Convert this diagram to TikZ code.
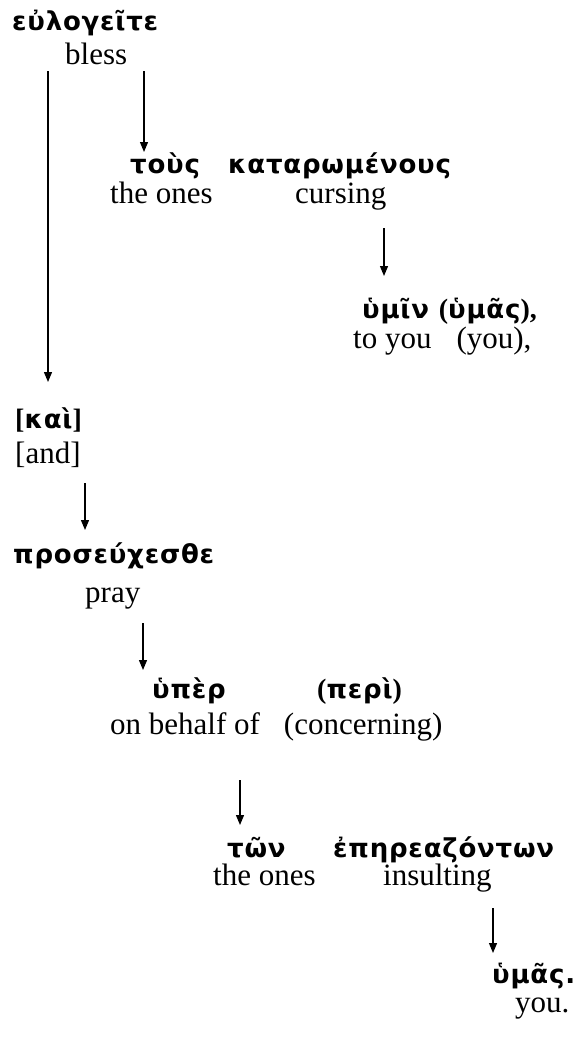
\documentclass[tikz,border=0pt]{standalone}
\usepackage{fontspec}
\setmainfont{Liberation Serif}
\newfontfamily\grkfont{DejaVu Sans}[LetterSpace=3]
\usetikzlibrary{arrows.meta}
% bold serif punctuation inside the Greek lines
\newcommand\gp[1]{{\rmfamily\bfseries\fontsize{28bp}{28bp}\selectfont #1}}
\begin{document}
\begin{tikzpicture}[x=1bp,y=-1bp,
  gk/.style={anchor=base west, inner sep=0pt,
    font=\grkfont\bfseries\fontsize{26bp}{26bp}\selectfont},
  en/.style={anchor=base west, inner sep=0pt,
    font=\rmfamily\fontsize{31bp}{31bp}\selectfont},
  link/.style={line width=1.2bp, -{Triangle[length=10bp,width=8bp]}}]
\useasboundingbox (0,0) rectangle (578,1038);

% words and glosses
\node[gk] (g1) at (12,30) {εὐλογεῖτε};
\node[en] (e1) at (65,64) {bless};

\node[gk] (g2a) at (130,173) {τοὺς};
\node[gk] (g2b) at (228,173) {καταρωμένους};
\node[en] (e2a) at (110,203) {the ones};
\node[en] (e2b) at (295,203) {cursing};

\node[gk] (g3) at (362,318) {ὑμῖν \gp{(}ὑμᾶς\gp{),}};
\node[en] (e3) at (353,348) {to you\hspace{25bp}(you),};

\node[gk] (g4) at (15,428) {\gp{[}καὶ\gp{]}};
\node[en] (e4) at (15,463) {[and]};

\node[gk] (g5) at (13,563) {προσεύχεσθε};
\node[en] (e5) at (85,602) {pray};

\node[gk] (g6a) at (152,698) {ὑπὲρ};
\node[gk] (g6b) at (317,698) {\gp{(}περὶ\gp{)}};
\node[en] (e6) at (110,734) {on behalf of\hspace{24bp}(concerning)};

\node[gk] (g7a) at (227,857) {τῶν};
\node[gk] (g7b) at (333,857) {ἐπηρεαζόντων};
\node[en] (e7a) at (213,885) {the ones};
\node[en] (e7b) at (383,885) {insulting};

\node[gk] (g8) at (492,983) {ὑμᾶς.};
\node[en] (e8) at (515,1012) {you.};

% arrow ends
\coordinate (a1s) at (48,71);  \coordinate (a1e) at (48,382);
\coordinate (a2s) at (144,71); \coordinate (a2e) at (144,152);
\coordinate (a3s) at (384,228); \coordinate (a3e) at (384,276);
\coordinate (a4s) at (85,483); \coordinate (a4e) at (85,530);
\coordinate (a5s) at (143,623); \coordinate (a5e) at (143,670);
\coordinate (a6s) at (240,780); \coordinate (a6e) at (240,825);
\coordinate (a7s) at (493,908); \coordinate (a7e) at (493,953);

\draw[link] (a1s) -- (a1e);
\draw[link] (a2s) -- (a2e);
\draw[link] (a3s) -- (a3e);
\draw[link] (a4s) -- (a4e);
\draw[link] (a5s) -- (a5e);
\draw[link] (a6s) -- (a6e);
\draw[link] (a7s) -- (a7e);
\end{tikzpicture}
\end{document}
